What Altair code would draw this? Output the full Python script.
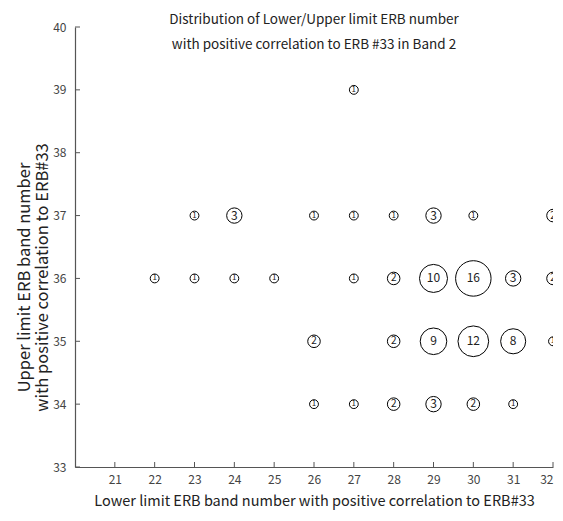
import altair as alt
import pandas as pd

FONT = "Noto Sans CJK JP"

# Lower limit ERB (x), upper limit ERB (y), count of occurrences
lower = [27,
         23, 24, 26, 27, 28, 29, 30, 32,
         22, 23, 24, 25, 27, 28, 29, 30, 31, 32,
         26, 28, 29, 30, 31, 32,
         26, 27, 28, 29, 30, 31]
upper = [39,
         37, 37, 37, 37, 37, 37, 37, 37,
         36, 36, 36, 36, 36, 36, 36, 36, 36, 36,
         35, 35, 35, 35, 35, 35,
         34, 34, 34, 34, 34, 34]
counts = [1,
          1, 3, 1, 1, 1, 3, 1, 2,
          1, 1, 1, 1, 1, 2, 10, 16, 3, 2,
          2, 2, 9, 12, 8, 1,
          1, 1, 2, 3, 2, 1]

x_ticks = [21, 22, 23, 24, 25, 26, 27, 28, 29, 30, 31, 32]
y_ticks = [33, 34, 35, 36, 37, 38, 39, 40]

W, H = 478, 440

df = pd.DataFrame({"lower": lower, "upper": upper, "n": counts})
xt = pd.DataFrame({"lower": x_ticks})
yt = pd.DataFrame({"upper": y_ticks})

xscale = alt.Scale(domain=[20, 32], nice=False, zero=False)
yscale = alt.Scale(domain=[33, 40], nice=False, zero=False)

xaxis = alt.Axis(values=x_ticks, ticks=False, grid=False, domainColor="#555",
                 domainWidth=1.2, labelFont=FONT, labelFontSize=12, labelColor="#444",
                 labelPadding=7,
                 title="Lower limit ERB band number with positive correlation to ERB#33",
                 titleFont=FONT, titleFontSize=14.5, titleFontWeight="normal",
                 titleColor="#222", titleBaseline="middle", titleX=W / 2, titleY=34,
                 titleAnchor="middle")
yaxis = alt.Axis(values=y_ticks, ticks=False, grid=False, domainColor="#555",
                 domainWidth=1.2, labelFont=FONT, labelFontSize=12, labelColor="#444",
                 labelPadding=9,
                 title=["Upper limit ERB band number", "with positive correlation to ERB#33"],
                 titleFont=FONT, titleFontSize=16.5, titleFontWeight="normal",
                 titleColor="#222", titleBaseline="middle", titleX=-51, titleY=250,
                 titleLineHeight=18, titleAnchor="middle", titleAngle=-90)

X = alt.X("lower:Q", scale=xscale, axis=xaxis)
Y = alt.Y("upper:Q", scale=yscale, axis=yaxis)

circles = alt.Chart(df).mark_point(shape="circle", filled=False, stroke="black",
                                   strokeWidth=1, opacity=1, clip=True).encode(
    x=X, y=Y,
    size=alt.Size("n:Q", scale=alt.Scale(domain=[0, 16], range=[0, 1257], zero=True),
                  legend=None),
)

labels = alt.Chart(df).transform_calculate(
    fs="datum.n == 1 ? 8 : (datum.n == 2 ? 10 : 12)"
).mark_text(font=FONT, color="#222", clip=True, baseline="middle", align="center").encode(
    x=X, y=Y,
    text=alt.Text("n:Q"),
    size=alt.Size("fs:Q", scale=None, legend=None),
)

xticks = alt.Chart(xt).mark_rule(color="#555", strokeWidth=1).encode(
    x=X, y=alt.value(H), y2=alt.value(H - 5),
)
yticks = alt.Chart(yt).mark_rule(color="#555", strokeWidth=1).encode(
    y=Y, x=alt.value(0), x2=alt.value(5),
)

chart = alt.layer(circles, labels, xticks, yticks).resolve_scale(size="independent").properties(
    width=W, height=H,
    title=alt.TitleParams(
        text=["Distribution of Lower/Upper limit ERB number",
              "with positive correlation to ERB #33 in Band 2"],
        font=FONT, fontSize=13.5, fontWeight="normal", color="#222",
        anchor="middle", baseline="alphabetic", lineHeight=25, dy=45),
    autosize=alt.AutoSizeParams(type="none"),
    padding={"left": 67, "top": 19, "right": 2, "bottom": 44},
).configure_view(stroke=None)

chart.save("out.html", embed_options={"renderer": "svg", "actions": False})
